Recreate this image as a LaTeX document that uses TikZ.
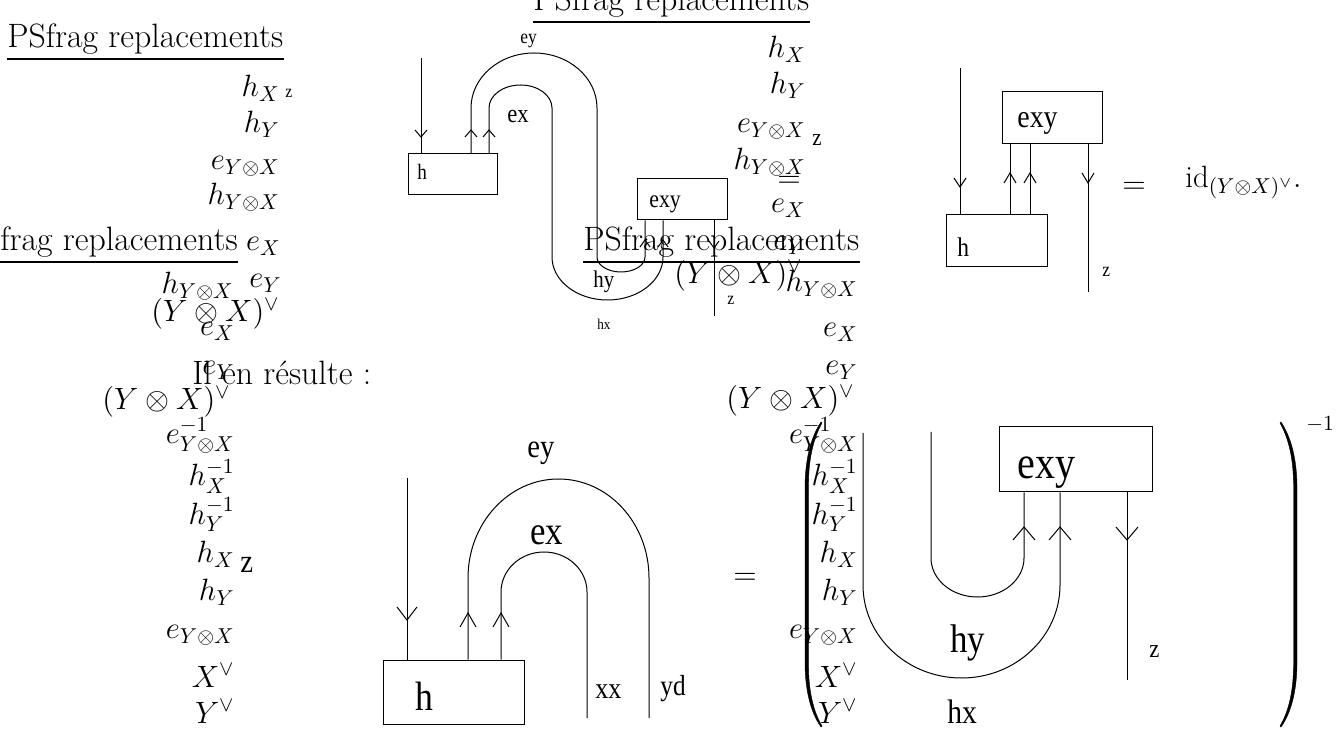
\documentclass[tikz,border=0pt]{standalone}
\usepackage{fix-cm}
\usepackage{fontspec}
\usepackage{graphicx}
\usetikzlibrary{fit}
\newfontfamily\tms{Liberation Serif}
\newcommand\tmtext[2]{{\fontsize{#1}{#1}\selectfont\tms\scalebox{0.87}[1]{#2}}}
\tikzset{
  lab/.style={anchor=base east, inner sep=0pt, font=\fontsize{15.4}{18}\selectfont},
  lw/.style={anchor=base west, inner sep=0pt, font=\fontsize{15.4}{18}\selectfont},
  big/.style={font=\fontsize{16.9}{20}\selectfont},
  eqs/.style={anchor=base, inner sep=0pt, font=\fontsize{15.4}{18}\selectfont},
  tl/.style={anchor=base west, inner sep=0pt},
  wire/.style={line width=0.5pt},
  bx/.style={draw, line width=0.5pt, inner sep=0pt},
  ul/.style={line width=0.8pt},
  paren/.style={fill=black, draw=black, line width=0.2pt},
  pics/vup/.style args={#1/#2}{code={\draw[wire] (-#1,#2) -- (0,0) -- (#1,#2);}},
  pics/vdn/.style args={#1/#2}{code={\draw[wire] (-#1,-#2) -- (0,0) -- (#1,-#2);}},
}
\begin{document}
\begin{tikzpicture}[x=0.5pt,y=-0.5pt]
\path[use as bounding box] (0,0) rectangle (1338,731);
\clip (0,0) rectangle (1338,731);

% ---------- PSfrag block 1 (top left)
\node[lw, big] (ps1) at (7,48) {PSfrag replacements};
\draw[ul] ([yshift=-5.5pt]ps1.base west) -- ([yshift=-5.5pt]ps1.base east);
\node[lab] (a1) at (280,97) {$h_X$};
\node[tl] (a1z) at (285,98) {\tmtext{9}{z}};
\node[lab] (a2) at (280,133) {$h_Y$};
\node[lab] (a3) at (280,170) {$e_{Y\otimes X}$};
\node[lab] (a4) at (280,205) {$h_{Y\otimes X}$};

% ---------- PSfrag block 2 (left middle)
\node[lab, big] (ps2) at (238,251) {PSfrag replacements};
\draw[ul] ([yshift=-5.5pt]ps2.base west) -- ([yshift=-5.5pt]ps2.base east);
\node[lab] (b0) at (281,251) {$e_X$};
\node[lab] (b1) at (234,294) {$h_{Y\otimes X}$};
\node[lab] (b2) at (282,288) {$e_Y$};
\node[lab] (b3) at (280,322) {$(Y\otimes X)^\vee$};
\node[lab] (b4) at (235,336) {$e_X$};
\node[lab] (b5) at (235,375) {$e_Y$};
\node[lw, big] (ilen) at (192,385) {Il en résulte :};
\node[lab] (b6) at (231,410) {$(Y\otimes X)^\vee$};
\node[lab] (b7) at (235,444) {$e^{-1}_{Y\otimes X}$};
\node[lab] (b8) at (235,486) {$h^{-1}_X$};
\node[lab] (b9) at (235,524) {$h^{-1}_Y$};
\node[lab] (b10) at (235,563) {$h_X$};
\node[tl] (b10z) at (240,573) {\tmtext{16.5}{z}};
\node[lab] (b11) at (235,601) {$h_Y$};
\node[lab] (b12) at (235,639) {$e_{Y\otimes X}$};
\node[lab] (b13) at (235,687) {$X^\vee$};
\node[lab] (b14) at (235,723) {$Y^\vee$};

% ---------- PSfrag block 3 (top centre)
\node[lw, big] (ps3) at (533,11) {PSfrag replacements};
\draw[ul] ([yshift=-5.5pt]ps3.base west) -- ([yshift=-5.5pt]ps3.base east);
\node[lab] (c1) at (806,58) {$h_X$};
\node[lab] (c2) at (806,94) {$h_Y$};
\node[lab] (c3) at (806,133) {$e_{Y\otimes X}$};
\node[tl] (c3z) at (812,146) {\tmtext{12}{z}};
\node[lab] (c4) at (806,170) {$h_{Y\otimes X}$};
\node[eqs] (c4eq) at (789,188) {$=$};
\node[lab] (c5) at (806,213) {$e_X$};
\node[lab] (c6) at (806,250) {$e_Y$};
\node[lab] (c7) at (803,284) {$(Y\otimes X)^\vee$};

% ---------- PSfrag block 4 (right middle)
\node[lw, big] (ps4) at (583,251) {PSfrag replacements};
\draw[ul] ([yshift=-5.5pt]ps4.base west) -- ([yshift=-5.5pt]ps4.base east);
\node[lab] (d1) at (858,292) {$h_{Y\otimes X}$};
\node[lab] (d2) at (858,337) {$e_X$};
\node[lab] (d3) at (858,375) {$e_Y$};
\node[lab] (d4) at (855,409) {$(Y\otimes X)^\vee$};
\node[lab] (d5) at (858,444) {$e^{-1}_{Y\otimes X}$};
\node[lab] (d6) at (858,486) {$h^{-1}_X$};
\node[lab] (d7) at (858,524) {$h^{-1}_Y$};
\node[lab] (d8) at (858,563) {$h_X$};
\node[lab] (d9) at (858,601) {$h_Y$};
\node[lab] (d10) at (858,639) {$e_{Y\otimes X}$};
\node[lab] (d11) at (858,687) {$X^\vee$};
\node[lab] (d12) at (858,723) {$Y^\vee$};

% ---------- Diagram 1 (top centre, S shape)
\node[bx, fit={(408,154) (497,195)}] (h1) {};
\node[bx, fit={(637,179) (727,220)}] (e1) {};
\node[tl] (h1t) at (417,180) {\tmtext{11}{h}};
\node[tl] (e1t) at (649,208) {\tmtext{12.5}{exy}};
\node[tl] (ey1) at (520,44) {\tmtext{10}{ey}};
\node[tl] (ex1) at (507,123) {\tmtext{13}{ex}};
\node[tl] (hy1) at (593,288) {\tmtext{12}{hy}};
\node[tl] (hx1) at (597,330) {\tmtext{7.5}{hx}};
\node[tl] (z1) at (727,305) {\tmtext{9}{z}};
\coordinate (t1) at (421,58);
\coordinate (b1end) at (714,316);
\draw[wire] (t1) -- (h1.north -| 421,0);
\draw[wire] (h1.north -| 471,0) -- (471,108)
  arc[start angle=180, end angle=360, x radius=63, y radius=55] -- (597,257)
  arc[start angle=180, end angle=0, x radius=24, y radius=15] -- (e1.south -| 645,0);
\draw[wire] (h1.north -| 489,0) -- (489,108)
  arc[start angle=180, end angle=360, x radius=31.5, y radius=23] -- (552,257)
  arc[start angle=180, end angle=0, x radius=55.5, y radius=43] -- (e1.south -| 663,0);
\draw[wire] (e1.south -| 714,0) -- (b1end);
\pic at (421,137) {vdn=6/7};
\pic at (471,130) {vup=6/7};
\pic at (489,130) {vup=6/7};
\pic at (645,240) {vup=5/7};
\pic at (663,240) {vup=5/7};
\pic at (714,248) {vdn=5/7};

% ---------- Diagram 2 (top right)
\node[bx, fit={(946,215) (1047,267)}] (h2) {};
\node[bx, fit={(1002,92) (1102,144)}] (e2) {};
\node[tl] (h2t) at (957,257) {\tmtext{13.5}{h}};
\node[tl] (e2t) at (1017,128) {\tmtext{16}{exy}};
\node[tl] (z2) at (1102,277) {\tmtext{10}{z}};
\coordinate (t2) at (960,68);
\coordinate (b2end) at (1088,292);
\draw[wire] (t2) -- (h2.north -| 960,0);
\draw[wire] (h2.north -| 1010,0) -- (e2.south -| 1010,0);
\draw[wire] (h2.north -| 1030,0) -- (e2.south -| 1030,0);
\draw[wire] (e2.south -| 1088,0) -- (b2end);
\pic at (960,187) {vdn=6/9};
\pic at (1010,173) {vup=6/10};
\pic at (1030,173) {vup=6/10};
\pic at (1088,183) {vdn=6/10};
\node[eqs] (eq2) at (1134,194) {$=$};
\node[lw] (id2) at (1185,188) {$\mathrm{id}_{(Y\otimes X)^\vee}.$};

% ---------- Diagram 3 (bottom centre)
\node[bx, fit={(383,660) (524,724)}] (h3) {};
\node[tl] (h3t) at (415,710) {\tmtext{20.5}{h}};
\node[tl] (ey3) at (527,458) {\tmtext{16.5}{ey}};
\node[tl] (ex3) at (530,545) {\tmtext{20}{ex}};
\node[tl] (xx3) at (595,698) {\tmtext{15}{xx}};
\node[tl] (yd3) at (660,695) {\tmtext{14.5}{yd}};
\coordinate (t3) at (407,478);
\coordinate (o3end) at (649,718);
\coordinate (i3end) at (587,718);
\draw[wire] (t3) -- (h3.north -| 407,0);
\draw[wire] (h3.north -| 468,0) -- (468,578)
  arc[start angle=180, end angle=360, x radius=90.5, y radius=99] -- (o3end);
\draw[wire] (h3.north -| 501,0) -- (501,592)
  arc[start angle=180, end angle=360, x radius=43, y radius=40] -- (i3end);
\pic at (407,620) {vdn=10/13};
\pic at (468,613) {vup=8/14};
\pic at (501,613) {vup=8/14};
\node[eqs] (eq3) at (745,584) {$=$};

% ---------- Diagram 4 (bottom right, in parentheses)
\node[bx, fit={(999,427) (1152,492)}] (e4) {};
\node[tl] (e4t) at (1017,479) {\tmtext{23}{exy}};
\node[tl] (hy4) at (950,652) {\tmtext{20}{hy}};
\node[tl] (hx4) at (947,723) {\tmtext{17}{hx}};
\node[tl] (z4) at (1149,657) {\tmtext{13}{z}};
\coordinate (o4top) at (863,433);
\coordinate (i4top) at (931,432);
\coordinate (r4end) at (1127,680);
\draw[wire] (o4top) -- (863,585)
  arc[start angle=180, end angle=0, x radius=98.5, y radius=93] -- (e4.south -| 1060,0);
\draw[wire] (i4top) -- (931,558)
  arc[start angle=180, end angle=0, x radius=46.5, y radius=39] -- (e4.south -| 1024,0);
\draw[wire] (e4.south -| 1127,0) -- (r4end);
\pic at (1024,527) {vup=11/13};
\pic at (1060,527) {vup=11/13};
\pic at (1127,540) {vdn=11/13};
% big parentheses
\path[paren] (821,422) .. controls (811,437) and (805.5,458) .. (805,485) -- (805,665)
  .. controls (805.5,692) and (811,713) .. (821,727) -- (822,726)
  .. controls (813,711) and (808.5,690) .. (808.5,665) -- (808.5,485)
  .. controls (808.5,460) and (813,439) .. (822,423) -- cycle;
\path[paren] (1281,422) .. controls (1291,437) and (1296.5,458) .. (1297,485) -- (1297,665)
  .. controls (1296.5,692) and (1291,713) .. (1281,727) -- (1280,726)
  .. controls (1289,711) and (1293.5,690) .. (1293.5,665) -- (1293.5,485)
  .. controls (1293.5,460) and (1289,439) .. (1280,423) -- cycle;
\node[tl, font=\fontsize{10.8}{12}\selectfont] (inv) at (1306,431) {$-1$};
\end{tikzpicture}
\end{document}
